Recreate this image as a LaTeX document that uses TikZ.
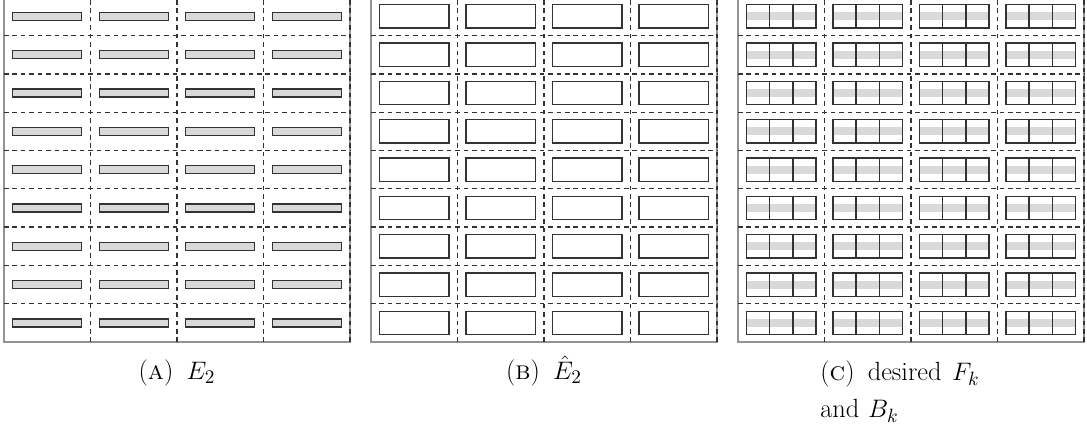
\documentclass[tikz,border=0pt]{standalone}
\usepackage{amsmath}
\usepackage{tikz}
\colorlet{barfill}{gray!30}
\colorlet{boxline}{black!80}
\colorlet{framegray}{gray!85}

\begin{document}
\begin{tikzpicture}[
    cellline/.style={boxline, line width=0.7pt, dash pattern=on 2.6pt off 2.2pt},
    boxed/.style={draw=boxline, line width=0.8pt},
    every node/.style={font=\fontsize{15}{21}\selectfont}
  ]
    \useasboundingbox (0,0) rectangle (21.74,8.48);
    \begin{scope}
      \clip (0,0) rectangle (21.74,8.48);
      % frames and dashed cells
      \foreach \px in {0.08, 7.42, 14.76} {
        \draw[framegray, line width=0.8pt] (\px,1.64) rectangle ++(6.92,6.894);
        \foreach \c in {1,...,4}
          \draw[cellline] (\px+1.73*\c,1.64) -- ++(0,6.894);
        \foreach \r in {1,...,8}
          \draw[cellline] (\px,1.64+0.766*\r) -- ++(6.92,0);
      }
      \foreach \c in {0,...,3} {
        \foreach \r in {0,...,8} {
          % (a) thin bars
          \draw[boxed, fill=barfill] (0.08+1.73*\c+0.175, 1.64+0.766*\r+0.303) rectangle ++(1.38,0.16);
          % (b) empty boxes
          \draw[boxed] (7.42+1.73*\c+0.17, 1.64+0.766*\r+0.15) rectangle ++(1.39,0.466);
          % (c) split boxes with band
          \fill[barfill] (14.76+1.73*\c+0.17, 1.64+0.766*\r+0.303) rectangle ++(1.39,0.16);
          \draw[boxed] (14.76+1.73*\c+0.17, 1.64+0.766*\r+0.15) rectangle ++(1.39,0.466);
          \draw[boxed] (14.76+1.73*\c+0.6333, 1.64+0.766*\r+0.15) -- ++(0,0.466);
          \draw[boxed] (14.76+1.73*\c+1.0967, 1.64+0.766*\r+0.15) -- ++(0,0.466);
        }
      }
    \end{scope}

    \node[anchor=base] (capA) at (3.54,0.89) {(\textsc{a})\hspace{0.5em}$E_2$};
    \node[anchor=base] (capB) at (10.88,0.89) {(\textsc{b})\hspace{0.5em}$\hat{E}_2$};
    \node[anchor=north west, text width=4.5cm, align=left, inner sep=0pt] (capC) at (16.4,1.27)
      {(\textsc{c})\hspace{0.5em}desired\hspace{0.4em}$F_k$\\and $B_k$};
  \end{tikzpicture}
\end{document}
